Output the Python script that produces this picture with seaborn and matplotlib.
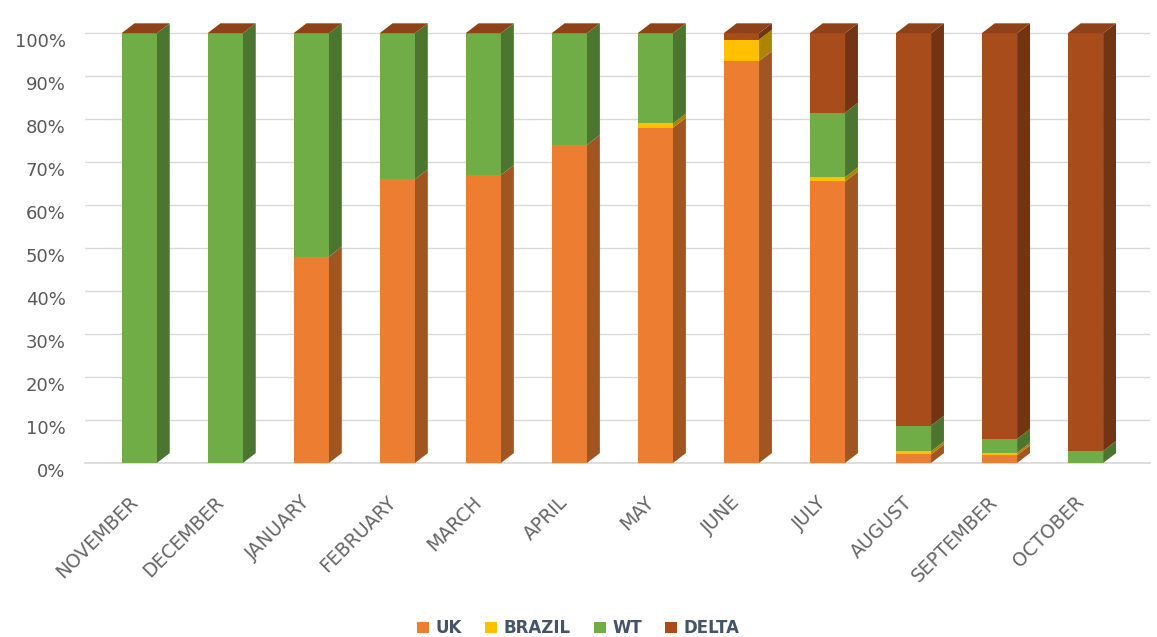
import numpy as np
import pandas as pd
import matplotlib
matplotlib.use("Agg")
import matplotlib.pyplot as plt
import matplotlib.transforms as mtransforms
import seaborn as sns
from matplotlib.patches import Polygon, Patch
import matplotlib.colors as mcolors

months = ["NOVEMBER", "DECEMBER", "JANUARY", "FEBRUARY", "MARCH", "APRIL",
          "MAY", "JUNE", "JULY", "AUGUST", "SEPTEMBER", "OCTOBER"]
uk     = [0, 0, 48, 66, 67, 74, 78, 93.5, 65.5, 2.0, 1.8, 0]
brazil = [0, 0, 0, 0, 0, 0, 1, 5.0, 1.0, 0.7, 0.6, 0]
wt     = [100, 100, 52, 34, 33, 26, 21, 0, 15, 6.0, 3.2, 2.8]
delta  = [0, 0, 0, 0, 0, 0, 0, 1.5, 18.5, 91.3, 94.4, 97.2]

series_names = ["UK", "BRAZIL", "WT", "DELTA"]
series_vals = [uk, brazil, wt, delta]
colors = ["#ED7D31", "#FFC000", "#70AD47", "#A84C1C"]

sns.set_theme(style="white")
plt.rcParams["font.family"] = ["DejaVu Sans"]

fig = plt.figure(figsize=(11.57, 6.37), dpi=100)
ax = fig.add_axes([85/1157, 174/637, (1150-85)/1157, (463-16)/637])

bar_w = 0.41
bottom = np.zeros(len(months))
front_patches = []
for name, vals, col in zip(series_names, series_vals, colors):
    vals = np.asarray(vals, dtype=float)
    df = pd.DataFrame({"month": months, "value": vals})
    n_before = len(ax.patches)
    sns.barplot(data=df, x="month", y="value", bottom=bottom, color=col,
                saturation=1, width=bar_w, ax=ax, linewidth=0, zorder=3)
    for p in ax.patches[n_before:]:
        front_patches.append((p, col))
    bottom = bottom + vals

# pseudo-3D side faces derived from the drawn bars
dx = 0.15
dy = 2.3
for p, col in front_patches:
    x0, y0 = p.get_x(), p.get_y()
    w, h = p.get_width(), p.get_height()
    if h <= 0:
        continue
    rgb = np.array(mcolors.to_rgb(col))
    side = tuple(rgb * 0.68)
    xr = x0 + w
    poly = Polygon([(xr, y0), (xr + dx, y0 + dy), (xr + dx, y0 + h + dy), (xr, y0 + h)],
                   closed=True, facecolor=side, edgecolor="none", zorder=2.9)
    ax.add_patch(poly)

# top faces (last stacked series colour)
top_rgb = np.array(mcolors.to_rgb(colors[-1])) * 0.85
for i, total in enumerate(bottom):
    x0 = i - bar_w / 2
    ax.add_patch(Polygon([(x0, total), (x0 + bar_w, total), (x0 + bar_w + dx, total + dy),
                          (x0 + dx, total + dy)], closed=True,
                         facecolor=tuple(top_rgb), edgecolor="none", zorder=3.1))

ax.set_xlim(-0.63, 11.75)
ax.set_ylim(0, 104)
ticks = np.arange(0, 101, 10)
ax.set_yticks(ticks)
ax.set_yticklabels([f"{t}%" for t in ticks], fontsize=13, color="#595959")
ax.yaxis.grid(True, color="#D9D9D9", linewidth=1, zorder=0)
ax.set_axisbelow(True)
for s in ["top", "right", "left"]:
    ax.spines[s].set_visible(False)
ax.spines["bottom"].set_color("#D9D9D9")
ax.tick_params(axis="y", length=0, pad=14)
ax.tick_params(axis="x", length=0, pad=20)
ax.set_xlabel("")
ax.set_ylabel("")
ax.set_xticks(range(len(months)))
ax.set_xticklabels(months, rotation=45, ha="right", rotation_mode="anchor",
                   fontsize=13.5, color="#666666")

offset = mtransforms.ScaledTranslation(0, -7/100, fig.dpi_scale_trans)
for lab in ax.get_yticklabels():
    lab.set_transform(lab.get_transform() + offset)
xoff = mtransforms.ScaledTranslation(-11/100, -2/100, fig.dpi_scale_trans)
for lab in ax.get_xticklabels():
    lab.set_transform(lab.get_transform() + xoff)

handles = [Patch(facecolor=c, edgecolor="none") for c in colors]
fig.legend(handles, series_names, loc="lower center", ncol=4,
           bbox_to_anchor=(0.5, -0.024), frameon=False, handlelength=0.7,
           handleheight=0.7, handletextpad=0.4, columnspacing=1.4,
           prop={"size": 12, "weight": "bold"}, labelcolor="#44546A")

fig.savefig("out.png", dpi=100)
